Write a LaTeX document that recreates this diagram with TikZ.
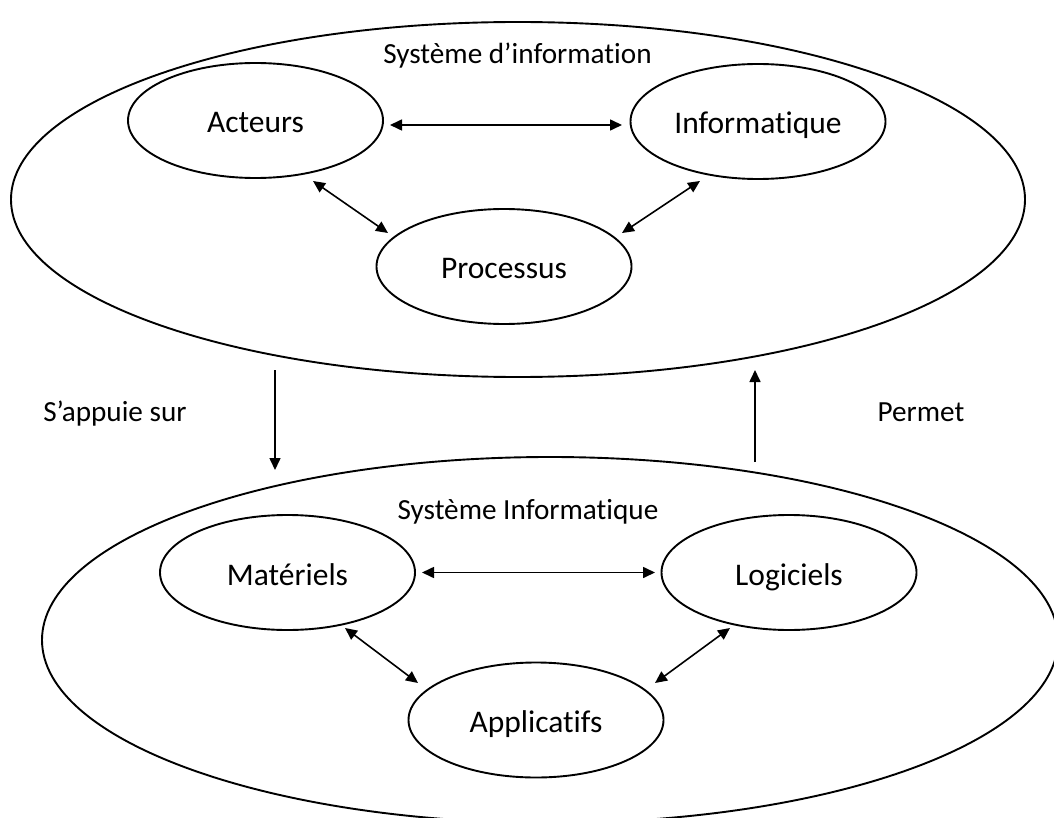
\documentclass[tikz,border=0pt]{standalone}
\usepackage{fontspec}
\setmainfont{Carlito}[Ligatures={NoCommon}]
\usetikzlibrary{shapes.geometric,arrows.meta}
\begin{document}
\begin{tikzpicture}[x=1pt,y=-1pt,
  outer/.style={draw,ellipse,line width=1.9pt,inner sep=0pt},
  part/.style={draw,ellipse,line width=1.9pt,minimum width=255pt,minimum height=115pt,
    inner sep=0pt,font=\fontsize{31.5}{37}\selectfont,text height=28pt,text depth=3pt},
  tag/.style={font=\fontsize{29.2}{34}\selectfont,anchor=base,inner sep=0pt},
  link/.style={line width=1.6pt,{Triangle[length=12pt,width=11pt]}-{Triangle[length=12pt,width=11pt]}},
  flow/.style={line width=1.6pt,-{Triangle[length=12pt,width=11pt]}}]
\useasboundingbox (0,0) rectangle (1054,818);
\clip (0,0) rectangle (1054,818);

% Système d'information
\node[outer,minimum width=1014pt,minimum height=355pt] (si) at (518,199.5) {};
\node[tag] (siname) at (517.5,64) {Système d’information};
\node[part] (acteurs) at (255.5,120.5) {Acteurs};
\node[part] (informatique) at (758,121.5) {Informatique};
\node[part] (processus) at (504,266.5) {Processus};
\draw[link] ([shift={(134.5,4.5)}]acteurs.center) -- ([shift={(-136,3.5)}]informatique.center);
\draw[link] ([shift={(57.5,60.5)}]acteurs.center) -- ([shift={(-116,-33.5)}]processus.center);
\draw[link] ([shift={(-58,59.5)}]informatique.center) -- ([shift={(118,-33.5)}]processus.center);

% Système informatique
\node[outer,minimum width=1016pt,minimum height=366pt] (sinf) at (550,640) {};
\node[tag] (sinfname) at (528,519) {Système Informatique};
\node[part] (materiels) at (287.5,572.5) {Matériels};
\node[part] (logiciels) at (789,572.5) {Logiciels};
\node[part] (applicatifs) at (536,720) {Applicatifs};
\draw[link] ([shift={(134.5,0)}]materiels.center) -- ([shift={(-134,0)}]logiciels.center);
\draw[link] ([shift={(57.5,55.5)}]materiels.center) -- ([shift={(-118,-37)}]applicatifs.center);
\draw[link] ([shift={(-59,55.5)}]logiciels.center) -- ([shift={(119,-37)}]applicatifs.center);

% Liens entre les deux systèmes
\draw[flow] ([shift={(-243,170.5)}]si.center) -- ([shift={(-275,-170)}]sinf.center);
\draw[flow] ([shift={(205,-178)}]sinf.center) -- ([shift={(237,170.5)}]si.center);
\node[tag] (appui) at (115,421) {S’appuie sur};
\node[tag] (permet) at (921,421) {Permet};
\end{tikzpicture}
\end{document}
